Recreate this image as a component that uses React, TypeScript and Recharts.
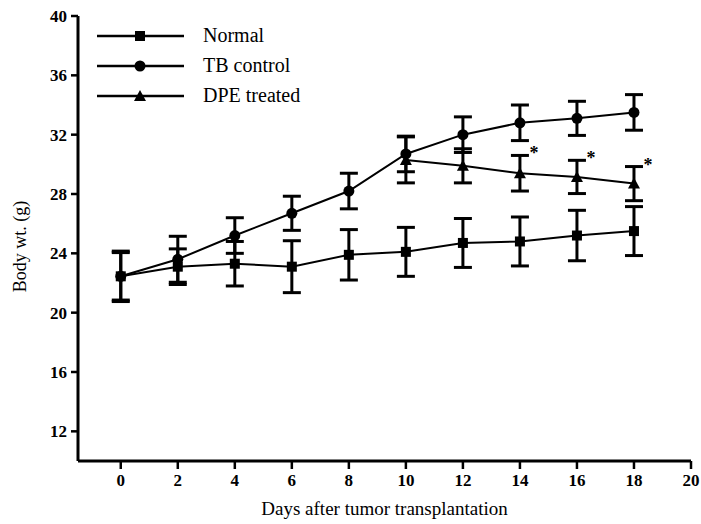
import React from 'react';
import { ComposedChart, Line, Scatter, XAxis, YAxis, ErrorBar, Label, Legend } from 'recharts';

// body weight (g) by day after tumor transplantation, mean with SD
const days = [0, 2, 4, 6, 8, 10, 12, 14, 16, 18];
const normal = [22.45, 23.1, 23.3, 23.1, 23.9, 24.1, 24.7, 24.8, 25.2, 25.5];
const normalSd = [1.7, 1.2, 1.5, 1.75, 1.7, 1.65, 1.65, 1.65, 1.7, 1.65];
const tbControl = [22.45, 23.6, 25.2, 26.7, 28.2, 30.7, 32.0, 32.8, 33.1, 33.5];
const tbSd = [1.6, 1.55, 1.2, 1.15, 1.2, 1.2, 1.2, 1.2, 1.15, 1.2];
const dpeDays = [10, 12, 14, 16, 18];
const dpeTreated = [30.3, 29.9, 29.4, 29.15, 28.7];
const dpeSd = [1.55, 1.15, 1.2, 1.12, 1.15];
const dpeSignificant = [false, false, true, true, true];

const xTicks = [0, 2, 4, 6, 8, 10, 12, 14, 16, 18, 20];
const yTicks = [12, 16, 20, 24, 28, 32, 36, 40];

const FONT = '"Liberation Serif", "Times New Roman", serif';

const normalData = days.map((d, i) => ({ day: d, value: normal[i], sd: normalSd[i] }));
const tbData = days.map((d, i) => ({ day: d, value: tbControl[i], sd: tbSd[i] }));
const dpeData = dpeDays.map((d, i) => ({ day: d, value: dpeTreated[i], sd: dpeSd[i] }));
const starData = dpeDays
  .map((d, i) => ({ day: d, value: dpeTreated[i] + dpeSd[i], sig: dpeSignificant[i] }))
  .filter((p) => p.sig);

const SquareDot = (props: any) => {
  const { cx, cy, key } = props;
  if (cx == null || cy == null) return null;
  return <rect key={key} x={cx - 5} y={cy - 5} width={10} height={10} fill="#000" />;
};

const CircleDot = (props: any) => {
  const { cx, cy, key } = props;
  if (cx == null || cy == null) return null;
  return <circle key={key} cx={cx} cy={cy} r={5.5} fill="#000" />;
};

const TriangleDot = (props: any) => {
  const { cx, cy, key } = props;
  if (cx == null || cy == null) return null;
  return <polygon key={key} points={`${cx},${cy - 6} ${cx - 6},${cy + 5} ${cx + 6},${cy + 5}`} fill="#000" />;
};

const Star = (props: any) => {
  const { cx, cy } = props;
  return (
    <text x={cx + 14} y={cy + 4} fontFamily={FONT} fontSize={18} fontWeight="bold" textAnchor="middle" fill="#000">
      *
    </text>
  );
};

const legendItems = [
  { name: 'Normal', shape: 'square' },
  { name: 'TB control', shape: 'circle' },
  { name: 'DPE treated', shape: 'triangle' },
];

const LegendBox = () => (
  <svg width={260} height={90}>
    {legendItems.map((item, i) => {
      const y = 15 + i * 30;
      return (
        <g key={item.name}>
          <line x1={0} y1={y} x2={87} y2={y} stroke="#000" strokeWidth={2.5} />
          {item.shape === 'square' && <rect x={38} y={y - 5} width={10} height={10} fill="#000" />}
          {item.shape === 'circle' && <circle cx={43} cy={y} r={5.5} fill="#000" />}
          {item.shape === 'triangle' && <polygon points={`43,${y - 6} 37,${y + 5} 49,${y + 5}`} fill="#000" />}
          <text x={106} y={y + 6} fontFamily={FONT} fontSize={20} fill="#000">
            {item.name}
          </text>
        </g>
      );
    })}
  </svg>
);

export default function App() {
  return (
    <div style={{ position: 'absolute', left: 0, top: 0, background: '#fff' }}>
      <ComposedChart width={701} height={524} margin={{ top: 16, right: 10, bottom: 0, left: 18 }}>
        <XAxis
          type="number"
          dataKey="day"
          domain={[-1.5, 20]}
          ticks={xTicks}
          allowDataOverflow
          height={63}
          tickSize={8}
          tickMargin={5}
          stroke="#000"
          strokeWidth={3}
          tick={{ fontFamily: FONT, fontSize: 17, fontWeight: 'bold', fill: '#000' }}
          tickLine={{ stroke: '#000', strokeWidth: 2.5 }}
        >
          <Label
            value="Days after tumor transplantation"
            position="insideBottom"
            offset={9}
            style={{ fontFamily: FONT, fontSize: 19, fill: '#000' }}
          />
        </XAxis>
        <YAxis
          type="number"
          domain={[10, 40]}
          ticks={yTicks}
          allowDataOverflow
          width={60}
          tickSize={7}
          tickMargin={4}
          stroke="#000"
          strokeWidth={3}
          tick={{ fontFamily: FONT, fontSize: 17, fontWeight: 'bold', fill: '#000' }}
          tickLine={{ stroke: '#000', strokeWidth: 2.5 }}
        >
          <Label
            value="Body wt. (g)"
            angle={-90}
            position="insideLeft"
            offset={2}
            dy={8}
            style={{ fontFamily: FONT, fontSize: 18, fill: '#000', textAnchor: 'middle' }}
          />
        </YAxis>
        <Legend
          layout="horizontal"
          verticalAlign="middle"
          align="center"
          content={() => <LegendBox />}
          wrapperStyle={{ position: 'absolute', left: 97, top: 21, width: 260, height: 90 }}
        />
        <Line
          data={normalData}
          dataKey="value"
          stroke="#000"
          strokeWidth={2}
          dot={SquareDot}
          activeDot={false}
          isAnimationActive={false}
        >
          <ErrorBar dataKey="sd" width={9} stroke="#000" strokeWidth={3} direction="y" />
        </Line>
        <Line
          data={tbData}
          dataKey="value"
          stroke="#000"
          strokeWidth={2}
          dot={CircleDot}
          activeDot={false}
          isAnimationActive={false}
        >
          <ErrorBar dataKey="sd" width={9} stroke="#000" strokeWidth={3} direction="y" />
        </Line>
        <Line
          data={dpeData}
          dataKey="value"
          stroke="#000"
          strokeWidth={2}
          dot={TriangleDot}
          activeDot={false}
          isAnimationActive={false}
        >
          <ErrorBar dataKey="sd" width={9} stroke="#000" strokeWidth={3} direction="y" />
        </Line>
        <Scatter data={starData} dataKey="value" shape={Star} isAnimationActive={false} />
      </ComposedChart>
    </div>
  );
}
